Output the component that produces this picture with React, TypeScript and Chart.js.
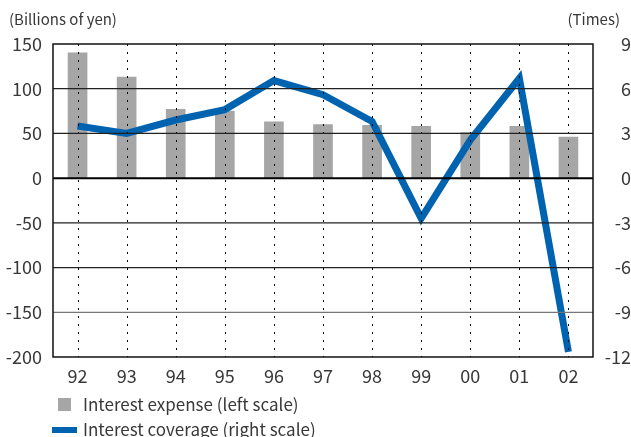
import React, { useEffect, useRef } from 'react';
import { Chart, registerables } from 'chart.js';
Chart.register(...registerables);

const years = ['92', '93', '94', '95', '96', '97', '98', '99', '00', '01', '02'];
const interestExpense = [140, 113, 77, 75, 63, 60, 59, 58, 51, 58, 46];
const interestCoverage = [3.5, 3.0, 3.9, 4.6, 6.55, 5.6, 3.8, -2.7, 2.55, 6.7, -11.65];
const leftTitle = '(Billions of yen)';
const rightTitle = '(Times)';
const legendBar = 'Interest expense (left scale)';
const legendLine = 'Interest coverage (right scale)';

const FONT = '"Noto Sans CJK JP", "Noto Sans", sans-serif';
const TEXT = '#383838';
const BLUE = '#0063b0';
const GRAY = '#a6a6a6';

const gridPlugin = {
  id: 'customGrid',
  afterDatasetsDraw(chart: any) {
    const { ctx, chartArea } = chart;
    const x = chart.scales.x;
    const y = chart.scales.y;
    ctx.save();
    // dotted verticals
    ctx.strokeStyle = '#000';
    ctx.lineWidth = 1;
    ctx.setLineDash([2, 6]);
    for (let i = 0; i < years.length; i++) {
      const px = Math.round(x.getPixelForValue(i)) + 0.5;
      ctx.beginPath();
      ctx.moveTo(px, chartArea.top);
      ctx.lineTo(px, chartArea.bottom);
      ctx.stroke();
    }
    ctx.setLineDash([]);
    // horizontals
    for (let v = 100; v >= -150; v -= 50) {
      const py = y.getPixelForValue(v);
      ctx.beginPath();
      ctx.lineWidth = v === 0 ? 2 : 1.3;
      ctx.strokeStyle = v === 0 ? '#000' : v === -150 ? '#777' : '#222';
      ctx.moveTo(chartArea.left, py);
      ctx.lineTo(chartArea.right, py);
      ctx.stroke();
    }
    // border
    ctx.lineWidth = 1.5;
    ctx.strokeStyle = '#111';
    ctx.strokeRect(chartArea.left, chartArea.top, chartArea.right - chartArea.left, chartArea.bottom - chartArea.top);
    ctx.restore();
  },
};

export default function App() {
  const ref = useRef<HTMLCanvasElement>(null);
  useEffect(() => {
    document.body.style.margin = '0';
    const chart = new Chart(ref.current!, {
      type: 'bar',
      data: {
        labels: years,
        datasets: [
          {
            type: 'line',
            label: legendLine,
            data: interestCoverage,
            yAxisID: 'y1',
            borderColor: BLUE,
            backgroundColor: BLUE,
            borderWidth: 7,
            pointRadius: 0,
            tension: 0,
            order: 0,
          } as any,
          {
            type: 'bar',
            label: legendBar,
            data: interestExpense,
            yAxisID: 'y',
            backgroundColor: GRAY,
            barThickness: 19,
            order: 1,
          },
        ],
      },
      plugins: [gridPlugin],
      options: {
        responsive: false,
        animation: false,
        devicePixelRatio: 1,
        layout: { padding: { top: 44, left: 0, right: 0, bottom: 0 } },
        plugins: { legend: { display: false }, tooltip: { enabled: false } },
        scales: {
          x: {
            offset: true,
            grid: { display: false, drawTicks: false },
            border: { display: false },
            ticks: { color: TEXT, font: { family: FONT, size: 18 }, padding: 8, maxRotation: 0 },
            afterFit: (s: any) => { s.height = 80; },
          },
          y: {
            position: 'left',
            min: -200,
            max: 150,
            grid: { display: false, drawTicks: false },
            border: { display: false },
            ticks: { stepSize: 50, color: TEXT, font: { family: FONT, size: 18 }, padding: 11 },
            afterFit: (s: any) => { s.width = 53; },
          },
          y1: {
            position: 'right',
            min: -12,
            max: 9,
            grid: { display: false, drawTicks: false },
            border: { display: false },
            ticks: { stepSize: 3, color: TEXT, font: { family: FONT, size: 18 }, padding: 10, crossAlign: 'far' },
            afterFit: (s: any) => { s.width = 38; },
          },
        },
      },
    });
    return () => chart.destroy();
  }, []);

  const txt: React.CSSProperties = { position: 'absolute', fontFamily: FONT, color: TEXT, whiteSpace: 'nowrap', lineHeight: 1 };
  return (
    <div style={{ position: 'relative', width: 631, height: 437, overflow: 'hidden', background: '#fff' }}>
      <canvas ref={ref} width={631} height={437} style={{ position: 'absolute', left: 0, top: 0 }} />
      <div style={{ ...txt, left: 9, top: 11, fontSize: 15 }}>{leftTitle}</div>
      <div style={{ ...txt, right: 11, top: 11, fontSize: 15 }}>{rightTitle}</div>
      <div style={{ position: 'absolute', left: 58, top: 398, width: 13, height: 13, background: GRAY }} />
      <div style={{ ...txt, left: 83, top: 395, fontSize: 17 }}>{legendBar}</div>
      <div style={{ position: 'absolute', left: 52, top: 427, width: 25, height: 6, background: BLUE }} />
      <div style={{ ...txt, left: 83, top: 420, fontSize: 17 }}>{legendLine}</div>
    </div>
  );
}
